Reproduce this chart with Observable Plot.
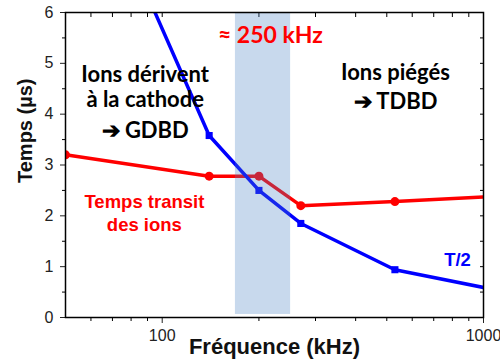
<!DOCTYPE html>
<html><head><meta charset="utf-8">
<script src="https://cdn.jsdelivr.net/npm/d3@7"></script>
<script src="https://cdn.jsdelivr.net/npm/@observablehq/plot@0.6"></script>
<style>
body{margin:0;background:#fff;}
#chart svg{font-family:"Liberation Sans",Arial,sans-serif;}
</style></head>
<body><div id="chart"></div>
<script>
// Data
const freq = [50, 140, 200, 270, 530, 1000];            // kHz
const transit = [3.2, 2.78, 2.78, 2.2, 2.28, 2.37];     // µs (red)
const halfPeriod = [10, 3.58, 2.5, 1.85, 0.94, 0.59];   // µs (blue, T/2)
const band = [169, 251];                                 // kHz shaded region
const yMajor = [0, 1, 2, 3, 4, 5, 6];
const yMinor = [0.5, 1.5, 2.5, 3.5, 4.5, 5.5];
const xMajor = [100, 1000];
const xMinor = [60, 70, 80, 90, 200, 300, 400, 500, 600, 700, 800, 900];

const redData = freq.map((f, i) => ({f, t: transit[i], i}));
const blueData = freq.map((f, i) => ({f, t: halfPeriod[i], i}));

// annotation lines (text, position in data units)
const blackLines = [
  {f: 88.5, t: 4.78, text: "Ions dérivent"},
  {f: 88.5, t: 4.27, text: "à la cathode"},
  {f: 88.5, t: 3.66, text: "➔ GDBD"},
  {f: 532, t: 4.81, text: "Ions piégés"},
  {f: 532, t: 4.24, text: "➔ TDBD"}
];
const bandLabel = [{f: 217, t: 5.54, text: "≈ 250 kHz"}];
const redLines = [
  {f: 88, t: 2.27, text: "Temps transit"},
  {f: 88, t: 1.82, text: "des ions"}
];
const blueLabel = [{f: 830, t: 1.12, text: "T/2"}];

const chart = Plot.plot({
  width: 500, height: 364,
  marginLeft: 65, marginRight: 17, marginTop: 12, marginBottom: 47,
  style: {fontFamily: "Liberation Sans, Arial, sans-serif", background: "white"},
  x: {type: "log", domain: [50, 1000]},
  y: {domain: [0, 6]},
  marks: [
    // axes
    Plot.axisY({ticks: yMajor, tickSize: 5, tickPadding: 7, fontSize: 16, color: "#222", tickFormat: d => String(d), label: null}),
    Plot.axisY({ticks: yMinor, tickSize: 3, tickFormat: () => "", label: null}),
    Plot.axisY({anchor: "right", ticks: yMajor.concat(yMinor), tickSize: -4, tickFormat: () => "", label: null}),
    Plot.axisX({ticks: xMajor, tickSize: 6, tickPadding: 6, fontSize: 16, color: "#222", tickFormat: d => String(d), label: null}),
    Plot.axisX({ticks: xMinor, tickSize: 4, tickFormat: () => "", label: null}),
    Plot.axisX({anchor: "top", ticks: xMajor.concat(xMinor), tickSize: -4, tickFormat: () => "", label: null}),
    // lines
    Plot.line(redData, {x: "f", y: "t", stroke: "#ff0000", strokeWidth: 3.5, clip: true}),
    Plot.line(blueData, {x: "f", y: "t", stroke: "#0000ff", strokeWidth: 3.5, clip: true}),
    Plot.dot(redData.filter(d => d.i < 5), {x: "f", y: "t", r: 4.5, fill: "#ff0000", stroke: "none", clip: true}),
    Plot.dot(blueData.filter(d => d.i > 0 && d.i < 5), {x: "f", y: "t", symbol: "square", r: 4, fill: "#0000ff", stroke: "none", clip: true}),
    // shaded band on top
    Plot.rect([{x1: band[0], x2: band[1]}], {x1: "x1", x2: "x2", y1: 0.06, y2: 6, fill: "#4a80c4", fillOpacity: 0.3}),
    Plot.frame({stroke: "black", strokeWidth: 1.5}),
    // annotations
    Plot.text(blackLines, {x: "f", y: "t", text: "text", fill: "black", fontFamily: "Lato", fontWeight: "bold", fontSize: 22, textAnchor: "middle"}),
    Plot.text(bandLabel, {x: "f", y: "t", text: "text", fill: "#ff0000", fontFamily: "Lato", fontWeight: "bold", fontSize: 23, textAnchor: "middle"}),
    Plot.text(redLines, {x: "f", y: "t", text: "text", fill: "#ff0000", fontFamily: "Liberation Sans", fontWeight: "bold", fontSize: 18.5, textAnchor: "middle", letterSpacing: "-0.5"}),
    Plot.text(blueLabel, {x: "f", y: "t", text: "text", fill: "#0000ff", fontFamily: "Liberation Sans", fontWeight: "bold", fontSize: 18.5, textAnchor: "middle", letterSpacing: "-0.5"}),
    // axis titles
    Plot.text(["Fréquence (kHz)"], {frameAnchor: "bottom", dy: 36, fontSize: 22, fontWeight: "bold", fill: "#111", letterSpacing: "-0.8"}),
    Plot.text(["Temps (µs)"], {frameAnchor: "left", dx: -40, dy: 18, rotate: -90, fontSize: 20, fontWeight: "bold", fill: "#111", letterSpacing: "-0.6"})
  ]
});
document.getElementById("chart").appendChild(chart);
</script></body></html>
